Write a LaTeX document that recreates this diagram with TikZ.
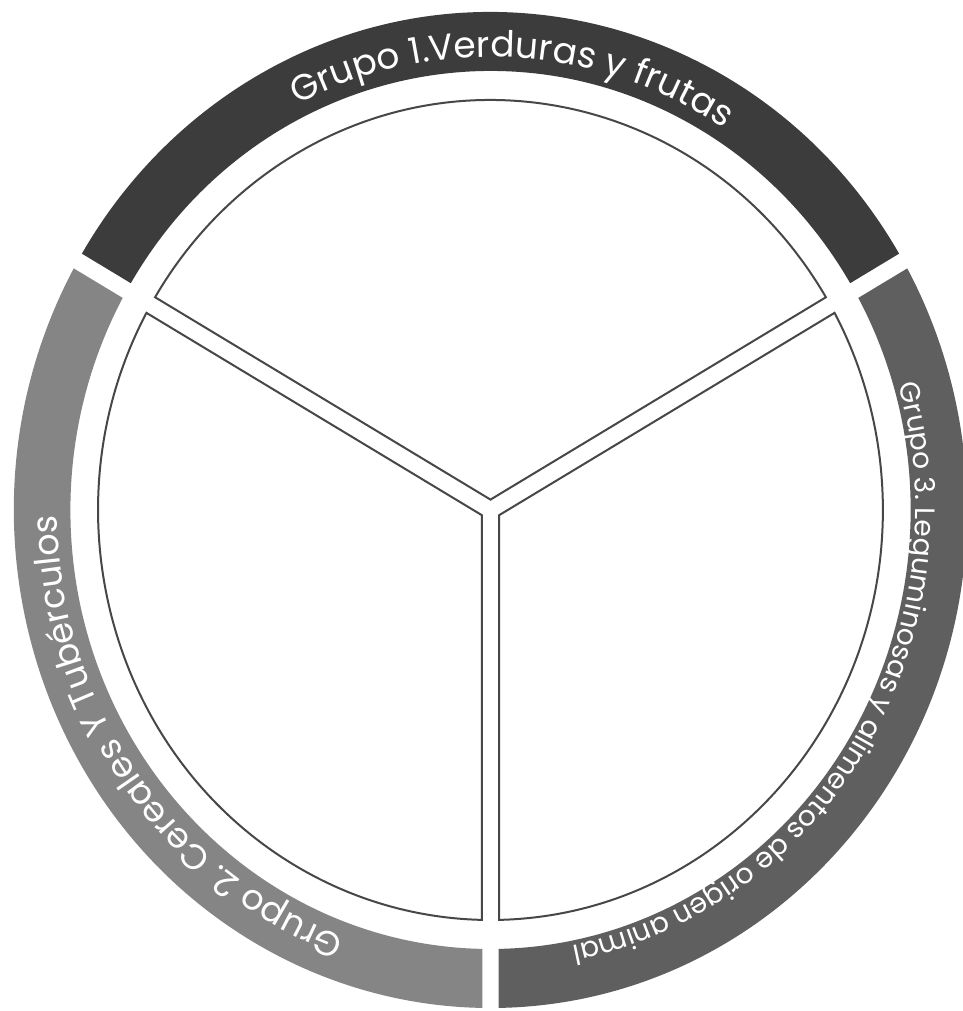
\documentclass[tikz,border=0pt]{standalone}
\usepackage{fontspec}
\setmainfont{Poppins}
\usepackage{xcolor}
\usepackage{tikz}
\usetikzlibrary{decorations.text}

\definecolor{grupouno}{HTML}{3C3C3C}
\definecolor{grupodos}{HTML}{858585}
\definecolor{grupotres}{HTML}{5F5F5F}
\definecolor{borde}{HTML}{474747}

\begin{document}
\begin{tikzpicture}[x=1pt, y=1pt,
    sector/.style={draw=borde, line width=2pt, fill=white},
    rotulo/.style 2 args={decorate, decoration={text along path, text color=white,
        text align=center, text={|\fontsize{#1}{#1}\selectfont|#2}}}]
    \fill[white] (-490.5,-501) rectangle (471.5,510);
    \useasboundingbox (-490.5,-501) rectangle (471.5,510);

    % Anillo exterior en tres partes
    \foreach \a/\col in {30/grupouno, 150/grupodos, 270/grupotres}
        \fill[\col] (\a+0.98:476.6pt and 498pt)
            arc[start angle=\a+0.98, end angle=\a+119.02, x radius=476.6pt, y radius=498pt]
            -- (\a+118.89:420.1pt and 439pt)
            arc[start angle=\a+118.89, end angle=\a+1.11, x radius=420.1pt, y radius=439pt]
            -- cycle;

    % Sectores del plato
    \foreach \a in {30, 150, 270}
        \draw[sector] (\a+60:9.95pt and 10.4pt) -- (\a+1.26:392.4pt and 410pt)
            arc[start angle=\a+1.26, end angle=\a+118.74, x radius=392.4pt, y radius=410pt]
            -- cycle;

    % Rotulos de los grupos
    \path[rotulo={36}{Grupo 1.Verduras y frutas}] (147:433.5pt and 453pt)
        arc[start angle=147, end angle=27, x radius=433.5pt, y radius=453pt];
    \path[rotulo={35}{Grupo 2. Cereales Y Tubérculos}] (274:433.5pt and 453pt)
        arc[start angle=274, end angle=158, x radius=433.5pt, y radius=453pt];
    \path[rotulo={28}{Grupo 3. Leguminosas y alimentos de origen animal}] (28:425pt and 444pt)
        arc[start angle=28, end angle=-91, x radius=425pt, y radius=444pt];
\end{tikzpicture}
\end{document}
